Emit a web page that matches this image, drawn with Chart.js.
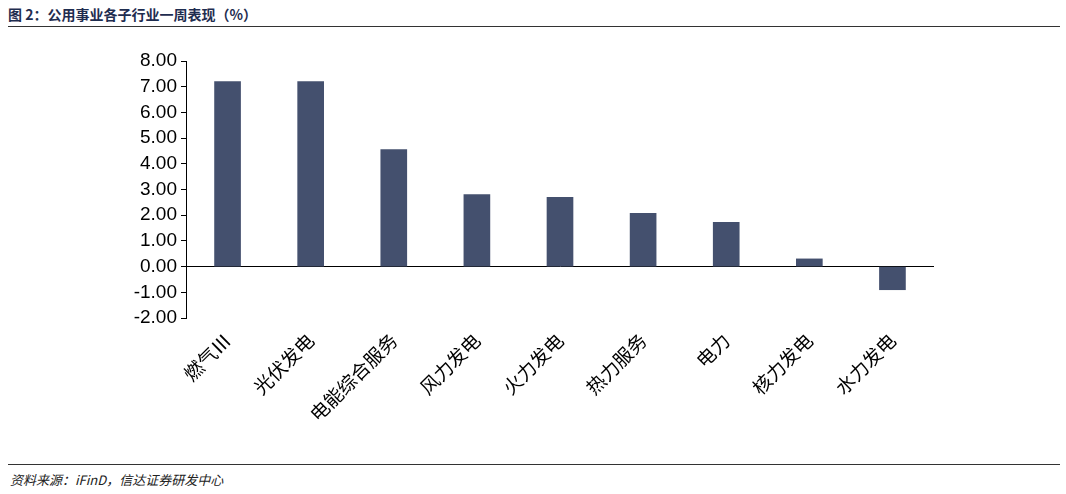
<!DOCTYPE html>
<html>
<head>
<meta charset="utf-8">
<script src="https://cdn.jsdelivr.net/npm/chart.js@4"></script>
<style>
  body { margin: 0; width: 1066px; height: 494px; background: #fff; position: relative; overflow: hidden; font-family: "Noto Sans CJK SC", sans-serif; }
  #title { position: absolute; left: 8px; top: 4px; font-size: 14px; font-weight: bold; color: #1f2d50; }
  #topLine { position: absolute; left: 8px; right: 6px; top: 26px; border-top: 1px solid #333; }
  #bottomLine { position: absolute; left: 8px; right: 6px; top: 464px; border-top: 1px solid #333; }
  #source { position: absolute; left: 10px; top: 470px; font-size: 13px; font-style: italic; color: #222; }
  #wrap { position: absolute; left: 0; top: 30px; width: 1066px; height: 430px; }
</style>
</head>
<body>
<div id="title">图 2：公用事业各子行业一周表现（%）</div>
<div id="topLine"></div>
<div id="wrap"><canvas id="chart"></canvas></div>
<div id="bottomLine"></div>
<div id="source">资料来源：iFinD，信达证券研发中心</div>
<script>
const categories = ['燃气Ⅲ', '光伏发电', '电能综合服务', '风力发电', '火力发电', '热力服务', '电力', '核力发电', '水力发电']
const weeklyChange = [7.2, 7.2, 4.55, 2.8, 2.7, 2.07, 1.72, 0.3, -0.9]

new Chart(document.getElementById('chart'), {
    type: 'bar',
    data: {
        labels: categories,
        datasets: [{
            data: weeklyChange,
            backgroundColor: '#44506e',
            barThickness: 26
        }]
    },
    options: {
        responsive: true,
        maintainAspectRatio: false,
        animation: false,
        layout: { padding: { top: 31, right: 132, left: 0, bottom: 0 } },
        plugins: { legend: { display: false }, tooltip: { enabled: false } },
        scales: {
            x: {
                grid: { display: false },
                border: { display: false },
                ticks: {
                    color: '#000',
                    maxRotation: 45,
                    minRotation: 45,
                    font: { family: 'Noto Sans CJK SC', size: 19 }
                },
                afterFit: (scale) => { scale.height = 142 }
            },
            y: {
                min: -2,
                max: 8,
                ticks: {
                    stepSize: 1,
                    autoSkip: false,
                    color: '#000',
                    padding: 4,
                    font: { family: 'Liberation Sans', size: 19 },
                    callback: (v) => v.toFixed(2)
                },
                grid: {
                    color: (ctx) => ctx.tick && ctx.tick.value === 0 ? '#000' : 'rgba(0,0,0,0)',
                    tickColor: '#000',
                    tickLength: 5
                },
                border: { display: true, color: '#000' },
                afterFit: (scale) => { scale.width = 186 }
            }
        }
    }
})
</script>
</body>
</html>
